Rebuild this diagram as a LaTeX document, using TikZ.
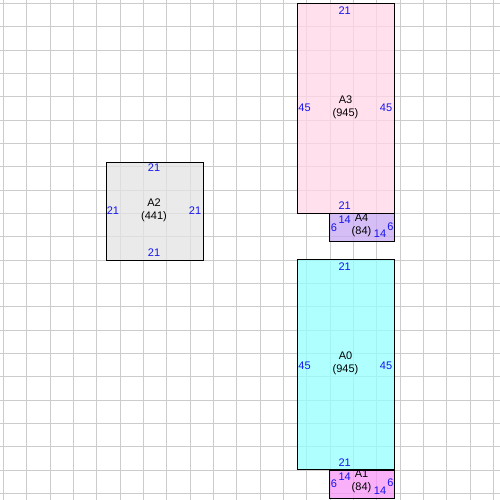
\documentclass[tikz,border=0pt]{standalone}
\usepackage{fontspec}
\setmainfont{Liberation Sans}
\begin{document}
\begin{tikzpicture}[x=1pt,y=-1pt,
  gridline/.style={draw={rgb,255:red,204;green,204;blue,204},line width=0.9pt},
  box/.style={draw=black,line width=1pt,fill opacity=0.75,inner sep=0pt,outer sep=0pt},
  num/.style={text={rgb,255:red,20;green,20;blue,240},font=\fontsize{11}{13}\selectfont,inner sep=0pt},
  ttl/.style={text=black,font=\fontsize{11}{13}\selectfont,align=center,inner sep=0pt}]
\definecolor{cA2}{RGB}{227,227,227}
\definecolor{cA3}{RGB}{255,214,230}
\definecolor{cA4}{RGB}{200,168,242}
\definecolor{cA0}{RGB}{150,255,255}
\definecolor{cA1}{RGB}{248,150,248}
\useasboundingbox (0,0) rectangle (500,500);
\fill[white] (0,0) rectangle (500,500);
\foreach \k in {0,...,21} {
  \draw[gridline] ({3.333+23.333*\k},0) -- ({3.333+23.333*\k},500);
  \draw[gridline] (0,{3.333+23.333*\k}) -- (500,{3.333+23.333*\k});
}
% boxes
\node[box,fill=cA2,minimum width=97pt,minimum height=98pt] (A2) at (155,211) {};
\node[box,fill=cA3,minimum width=97pt,minimum height=210pt] (A3) at (345.8,108.33) {};
\node[box,fill=cA4,minimum width=65pt,minimum height=28pt] (A4) at (362.3,227.33) {};
\node[box,fill=cA0,minimum width=97pt,minimum height=210pt] (A0) at (345.8,364.7) {};
\node[box,fill=cA1,minimum width=65pt,minimum height=28pt] (A1) at (362.3,484) {};
% A2 labels
\node[ttl] (tA2) at (154,210) {A2\\(441)};
\node[num] (A2t) at (154,168) {21};
\node[num] (A2b) at (154,253) {21};
\node[num] (A2l) at (113,211) {21};
\node[num] (A2r) at (195,211) {21};
% A3 labels
\node[ttl] (tA3) at (345.5,107) {A3\\(945)};
\node[num] (A3t) at (344.7,10.5) {21};
\node[num] (A3b) at (344.7,206) {21};
\node[num] (A3l) at (304.5,108) {45};
\node[num] (A3r) at (386,108) {45};
% A4 labels
\node[ttl] (tA4) at (361.5,225) {A4\\(84)};
\node[num] (A4t) at (344.7,220) {14};
\node[num] (A4b) at (380,234) {14};
\node[num] (A4l) at (334,228) {6};
\node[num] (A4r) at (390.5,227) {6};
% A0 labels
\node[ttl] (tA0) at (345.5,363.5) {A0\\(945)};
\node[num] (A0t) at (344.7,266.5) {21};
\node[num] (A0b) at (344.7,463) {21};
\node[num] (A0l) at (304.5,366) {45};
\node[num] (A0r) at (386,366) {45};
% A1 labels
\node[ttl] (tA1) at (361.5,481.5) {A1\\(84)};
\node[num] (A1t) at (344.7,476.5) {14};
\node[num] (A1b) at (380,490.5) {14};
\node[num] (A1l) at (334,484) {6};
\node[num] (A1r) at (390.5,483) {6};
\end{tikzpicture}
\end{document}
